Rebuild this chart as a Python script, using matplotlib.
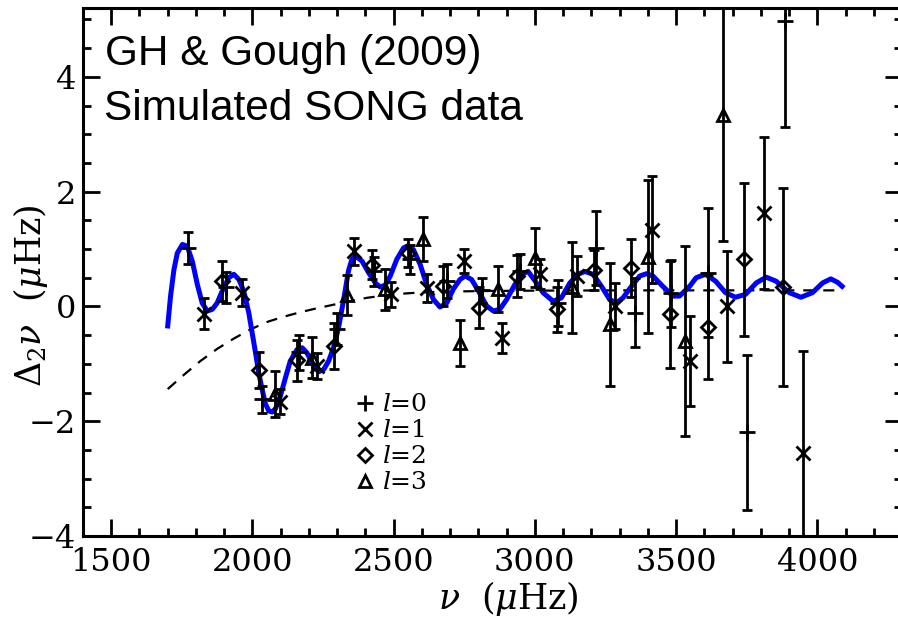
import numpy as np
import matplotlib
matplotlib.use("Agg")
import matplotlib.pyplot as plt
from matplotlib.lines import Line2D

plt.rcParams["mathtext.fontset"] = "dejavuserif"

# l=0 (plus)
nu0 = [1771, 1905, 2034, 2166, 2299, 2429, 2558, 2688, 2812, 2947, 3082, 3218, 3353, 3483, 3614, 3750, 3884]
d0 = [1.02, 0.33, -1.62, -0.80, -0.40, 0.61, 0.82, 0.44, 0.28, 0.61, 0.06, 1.02, -0.11, 0.23, 0.59, -2.19, 4.98]
e0 = [0.28, 0.27, 0.24, 0.30, 0.28, 0.25, 0.25, 0.30, 0.22, 0.30, 0.40, 0.65, 0.60, 0.58, 1.13, 1.35, 1.86]

# l=1 (cross)
nu1 = [1830, 1964, 2097, 2229, 2358, 2490, 2619, 2750, 2883, 3018, 3150, 3283, 3416, 3548, 3680, 3813, 3948]
d1 = [-0.13, 0.24, -1.66, -1.04, 0.96, 0.21, 0.32, 0.79, -0.55, 0.56, 0.53, 0.00, 1.34, -0.95, 0.00, 1.63, -2.55]
e1 = [0.27, 0.23, 0.22, 0.23, 0.23, 0.22, 0.25, 0.21, 0.27, 0.26, 0.35, 0.40, 0.93, 0.78, 0.97, 1.33, 1.77]

# l=2 (diamond)
nu2 = [1891, 2022, 2158, 2287, 2423, 2550, 2676, 2802, 2935, 3077, 3209, 3342, 3478, 3612, 3742, 3877]
d2 = [0.44, -1.11, -0.94, -0.69, 0.73, 0.93, 0.35, -0.02, 0.53, -0.05, 0.63, 0.67, -0.14, -0.36, 0.82, 0.34]
e2 = [0.35, 0.31, 0.36, 0.40, 0.26, 0.25, 0.35, 0.36, 0.36, 0.39, 0.35, 0.50, 0.94, 0.90, 1.33, 1.73]

# l=3 (triangle)
nu3 = [2081, 2211, 2335, 2470, 2605, 2735, 2870, 2999, 3133, 3265, 3400, 3530, 3665]
d3 = [-1.53, -0.89, 0.20, 0.30, 1.17, -0.63, 0.31, 0.85, 0.33, -0.31, 0.87, -0.60, 3.34]
e3 = [0.40, 0.36, 0.35, 0.36, 0.38, 0.40, 0.40, 0.52, 0.79, 1.07, 1.33, 1.65, 2.20]

# fitted model (blue)
fit_nu = [1700, 1710, 1722, 1734, 1752, 1769, 1787, 1805, 1822, 1840, 1858, 1875, 1893, 1916,
          1934, 1952, 1969, 1987, 1999, 2011, 2022, 2034, 2046, 2058, 2070, 2081, 2099, 2117,
          2134, 2158, 2176, 2193, 2217, 2234, 2252, 2270, 2287, 2305, 2323, 2340, 2352, 2364,
          2388, 2411, 2435, 2452, 2470, 2488, 2511, 2535, 2552, 2570, 2594, 2617, 2641, 2664,
          2688, 2711, 2735, 2753, 2776, 2800, 2829, 2853, 2876, 2900, 2929, 2953, 2976, 3000,
          3029, 3065, 3094, 3124, 3153, 3177, 3206, 3236, 3265, 3289, 3312, 3342, 3371, 3395,
          3418, 3453, 3489, 3512, 3548, 3571, 3604, 3640, 3675, 3710, 3746, 3784, 3819, 3854,
          3901, 3942, 3983, 4019, 4048, 4072, 4088]
fit_d = [-0.34, 0.18, 0.64, 0.93, 1.08, 1.05, 0.79, 0.38, 0.06, -0.08, -0.05, 0.06, 0.27, 0.50,
         0.56, 0.47, 0.27, -0.11, -0.46, -0.81, -1.15, -1.44, -1.70, -1.82, -1.84, -1.79, -1.56, -1.24,
         -0.95, -0.75, -0.72, -0.81, -1.04, -1.14, -1.10, -0.95, -0.72, -0.37, 0.12, 0.62, 0.82, 0.88,
         0.79, 0.59, 0.41, 0.34, 0.37, 0.53, 0.82, 1.02, 1.06, 0.99, 0.73, 0.38, 0.12, -0.01,
         0.06, 0.30, 0.47, 0.53, 0.47, 0.27, 0.01, -0.08, -0.05, 0.12, 0.38, 0.56, 0.61, 0.45,
         0.24, 0.09, 0.15, 0.41, 0.56, 0.61, 0.56, 0.35, 0.12, 0.06, 0.15, 0.35, 0.53, 0.57,
         0.53, 0.35, 0.18, 0.18, 0.35, 0.50, 0.56, 0.44, 0.24, 0.16, 0.21, 0.41, 0.51, 0.44,
         0.24, 0.16, 0.24, 0.41, 0.48, 0.42, 0.35]

# smooth component (dashed)
smooth_nu = [1700, 1760, 1816, 1875, 1934, 1993, 2052, 2110, 2170, 2230, 2287, 2345, 2405,
             2465, 2523, 2600, 2700, 2850, 3000, 3300, 3600, 3900, 4088]
smooth_d = [-1.44, -1.18, -0.95, -0.74, -0.56, -0.40, -0.27, -0.18, -0.10, -0.03, 0.03, 0.09, 0.15,
            0.19, 0.22, 0.245, 0.26, 0.27, 0.275, 0.28, 0.28, 0.28, 0.28]

labels = ["$\\mathit{l}$=0", "$\\mathit{l}$=1", "$\\mathit{l}$=2", "$\\mathit{l}$=3"]

fig = plt.figure(figsize=(8.98, 6.22), dpi=100)
W, H = 898, 622
ax = fig.add_axes([83 / W, 86 / H, (902 - 83) / W, (536 - 8) / H])

ax.plot(smooth_nu, smooth_d, color="black", lw=1.6, ls=(0, (5, 4)), zorder=2)
ax.plot(fit_nu, fit_d, color="#0000ff", lw=3.6, zorder=3)

mk = dict(color="black", mfc="none", mec="black", mew=2.0, ls="none")
eb = dict(ecolor="black", elinewidth=2.0, capsize=3.3, capthick=2.0, zorder=4, **mk)
styles = [("+", 11), ("x", 9.5), ("D", 7), ("^", 8.5)]
series = [(nu0, d0, e0), (nu1, d1, e1), (nu2, d2, e2), (nu3, d3, e3)]
for (m, s), (x, y, e) in zip(styles, series):
    ax.errorbar(x, y, yerr=e, fmt=m, ms=s, **eb)

ax.set_xlim(1400, 4300)
ax.set_ylim(-4, 5.2)
ax.set_xticks([1500, 2000, 2500, 3000, 3500, 4000])
ax.set_xticks(np.arange(1400, 4301, 100), minor=True)
ax.set_yticks([-4, -2, 0, 2, 4])
ax.set_yticks(np.arange(-4, 5.01, 0.5), minor=True)
ax.tick_params(which="both", direction="in", top=True, right=True, width=2,
               labelsize=23, labelfontfamily="DejaVu Serif")
ax.tick_params(which="major", length=12)
ax.tick_params(which="minor", length=6)
ax.tick_params(axis="x", pad=8)
ax.tick_params(axis="y", pad=5)
for sp in ax.spines.values():
    sp.set_linewidth(2.2)

ax.set_xlabel("$\\nu$  ($\\mu$Hz)", fontsize=25, family="DejaVu Serif")
ax.xaxis.set_label_coords(0.52, -0.082)
ax.set_ylabel("$\\Delta_2\\nu$  ($\\mu$Hz)", fontsize=25, family="DejaVu Serif")
ax.yaxis.set_label_coords(-0.040, 0.456)

fig.text(105 / W, 1 - 65 / H, "GH & Gough (2009)", fontsize=30.5,
         family="Liberation Sans", va="baseline", ha="left")
fig.text(104 / W, 1 - 120 / H, "Simulated SONG data", fontsize=30.5,
         family="Liberation Sans", va="baseline", ha="left")

handles = [Line2D([], [], marker=m, ms=s, **mk) for m, s in styles]
ax.legend(handles, labels, loc="upper left", bbox_to_anchor=(0.332, 0.27), frameon=False,
          handlelength=0.8, handletextpad=0.3, labelspacing=0.12, borderpad=0,
          borderaxespad=0, prop={"family": "DejaVu Serif", "size": 18})

fig.savefig("out.png", dpi=100)
